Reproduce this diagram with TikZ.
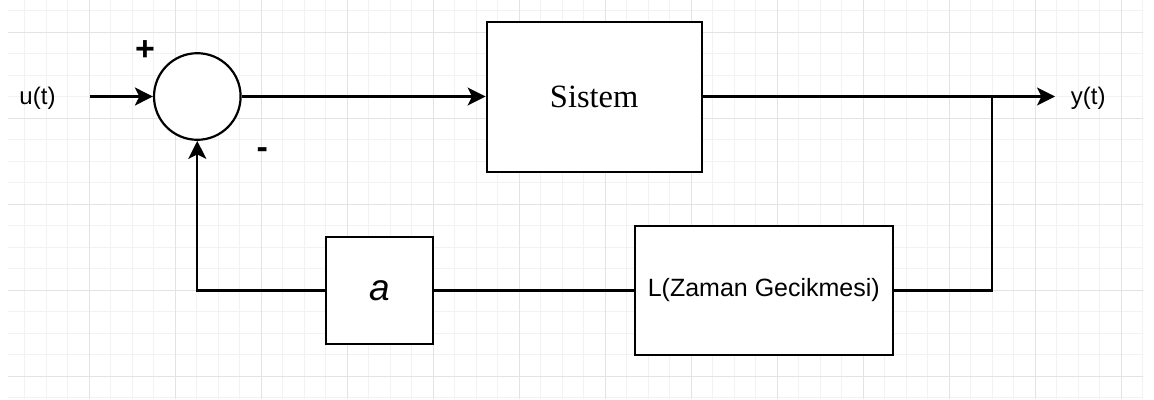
\documentclass[tikz,border=0pt]{standalone}
\usepackage{fontspec}
\setmainfont{Liberation Sans}
\newfontfamily\serifface{Liberation Serif}
\usetikzlibrary{arrows.meta}
\tikzset{
  blk/.style={draw=black, line width=2.2pt, fill=white, inner sep=0pt},
  wire/.style={draw=black, line width=2.2pt},
  arr/.style={wire, -{Stealth[length=18pt,width=18pt,inset=4.5pt]}},
  lbl/.style={inner sep=0pt, text=black},
  minorgrid/.style={draw=black!5, line width=1pt},
  majorgrid/.style={draw=black!11, line width=1pt}
}
\begin{document}
\begin{tikzpicture}[x=1pt,y=-1pt]
\useasboundingbox (0,0) rectangle (1154,399);
\fill[white] (0,0) rectangle (1154,399);
% grid
\begin{scope}
\clip (8,0) rectangle (1143,399);
\foreach \i in {0,...,53} {
  \draw[minorgrid] ({3.3+21.5*\i},0) -- ({3.3+21.5*\i},399);
}
\foreach \i in {0,...,19} {
  \draw[minorgrid] (0,{10.8+21.5*\i}) -- (1154,{10.8+21.5*\i});
}
\foreach \i in {0,...,13} {
  \draw[majorgrid] ({3.3+86*\i},0) -- ({3.3+86*\i},399);
}
\foreach \i in {0,...,4} {
  \draw[majorgrid] (0,{32.3+86*\i}) -- (1154,{32.3+86*\i});
}
\end{scope}
% nodes
\node[blk, circle, minimum size=86.6pt] (sum) at (197.3,96.5) {};
\node[blk, minimum width=215pt, minimum height=150.6pt] (sys) at (594.2,97)
  {\serifface\fontsize{32.5}{38}\selectfont Sistem};
\node[blk, minimum width=257.7pt, minimum height=129pt] (L) at (763.8,290.5)
  {\fontsize{25}{30}\selectfont L(Zaman Gecikmesi)};
\node[blk, minimum width=107.6pt, minimum height=107.6pt] (A) at (379.5,290.5)
  {\fontsize{37}{44}\selectfont\itshape a};
\node[lbl] (u) at (37.5,98) {\fontsize{24}{29}\selectfont u(t)};
\node[lbl] (y) at (1088.3,98) {\fontsize{24}{29}\selectfont y(t)};
\node[lbl] (plus) at (145,50.7) {\fontsize{34}{40}\selectfont\bfseries +};
\node[lbl] (minus) at (262.3,153.3) {\fontsize{34}{40}\selectfont\bfseries -};
\coordinate (in) at (90,96.5);
\coordinate (out) at (1055,96.5);
\coordinate (br) at (991.7,96.5);
% connectors
\draw[arr] (in) -- (sum.west);
\draw[arr] (sum.east) -- (sys.west |- sum.east);
\draw[arr] (sys.east |- out) -- (out);
\draw[wire] (br) -- (br |- L.east) -- (L.east);
\draw[wire] (L.west) -- (A.east);
\draw[arr] (A.west) -- (A.west -| sum.south) -- (sum.south);
\end{tikzpicture}
\end{document}
